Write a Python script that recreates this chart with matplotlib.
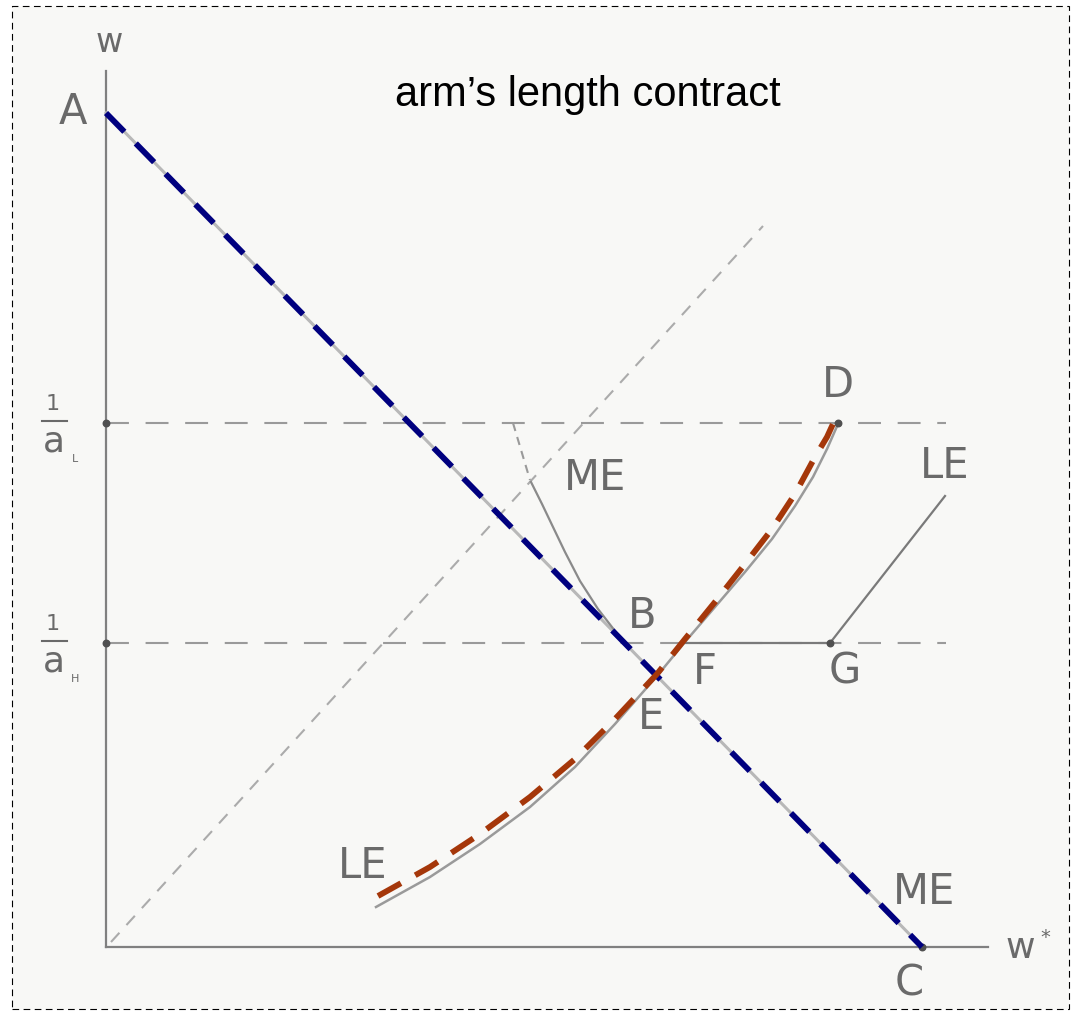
import numpy as np
import matplotlib.pyplot as plt
from matplotlib.patches import Rectangle

# diagram coordinates (w* across, w up), origin at the axes corner
A = (0.0, 8.34)
C = (8.16, 0.0)
w_L = 5.24   # 1/a_L
w_H = 3.04   # 1/a_H
line_end = 8.40

diag_x = [0.05, 6.57]
diag_y = [0.05, 7.21]

me_kink_x = [4.07, 4.24]
me_kink_y = [5.24, 4.67]
me_x = [4.25, 4.36, 4.47, 4.59, 4.74, 4.92, 5.16]
me_y = [4.65, 4.43, 4.20, 3.95, 3.66, 3.38, 3.07]

le_x = [2.70, 3.24, 3.74, 4.24, 4.69, 5.09, 5.51, 5.79, 6.09, 6.39, 6.66, 6.89, 7.07, 7.21, 7.32]
le_y = [0.40, 0.70, 1.03, 1.40, 1.80, 2.23, 2.71, 3.05, 3.40, 3.75, 4.08, 4.41, 4.70, 4.98, 5.23]

fg_x = [5.79, 7.24]
ge_x = [7.24, 8.39]
ge_y = [3.04, 4.51]

arm_x = [2.72, 3.24, 3.74, 4.24, 4.69, 5.09, 5.51, 5.79, 6.09, 6.39, 6.66, 6.89, 7.09, 7.21, 7.32]
arm_y = [0.51, 0.80, 1.13, 1.50, 1.88, 2.28, 2.73, 3.08, 3.45, 3.83, 4.18, 4.53, 4.90, 5.10, 5.34]

dots_x = [0, 0, 7.32, 7.24, 8.16]
dots_y = [w_L, w_H, w_L, w_H, 0]

labels = ["A", "ME", "D", "LE", "B", "F", "E", "G", "LE", "ME", "C"]
lab_x = [-0.33, 4.89, 7.32, 8.39, 5.36, 5.99, 5.45, 7.39, 2.57, 8.18, 8.03]
lab_y = [8.36, 4.70, 5.63, 4.82, 3.32, 2.76, 2.31, 2.76, 0.82, 0.56, -0.36]

grey = '#6a6a6a'

fig = plt.figure(figsize=(10.72, 10.12), dpi=100)
ax = fig.add_axes([0, 0, 1, 1])
ax.set_xlim(-1.06, 9.66)
ax.set_ylim(-0.64, 9.48)
ax.axis('off')

# scanned page background and dashed frame
ax.add_patch(Rectangle((-0.94, -0.62), 10.57, 10.03, facecolor='#f8f8f6',
                       edgecolor='black', lw=0.8, ls=(0, (6, 4)), clip_on=False, zorder=0))

# axes
ax.plot([0, 0], [0, 8.76], color='#808080', lw=1.6)
ax.plot([0, 8.82], [0, 0], color='#808080', lw=1.6)

# guide lines
for w in (w_L, w_H):
    ax.plot([0, line_end], [w, w], color='#9a9a9a', lw=1.5, dashes=(11, 8))
ax.plot(diag_x, diag_y, color='#ababab', lw=1.5, dashes=(6, 5))

# original curves
ax.plot([A[0], C[0]], [A[1], C[1]], color='#b8b8b8', lw=2.2)
ax.plot(me_kink_x, me_kink_y, color='#9a9a9a', lw=1.5, dashes=(4, 3))
ax.plot(me_x, me_y, color='#8a8a8a', lw=1.6)
ax.plot(le_x, le_y, color='#9a9a9a', lw=1.8)
ax.plot(fg_x, [w_H, w_H], color='#7a7a7a', lw=1.6)
ax.plot(ge_x, ge_y, color='#7a7a7a', lw=1.6)
ax.scatter(dots_x, dots_y, s=22, color='#505050', zorder=3)

# arm's length overlays
ax.plot([A[0], C[0]], [A[1], C[1]], color='#00007f', lw=4.2, dashes=(4.5, 2.8), zorder=4)
ax.plot(arm_x, arm_y, color='#a5370a', lw=4.2, dashes=(4.5, 2.8), zorder=4)

# letters
for t, x, y in zip(labels, lab_x, lab_y):
    ax.text(x, y, t, fontsize=30, color=grey, ha='center', va='center', family='DejaVu Sans')
ax.text(0.03, 9.06, 'w', fontsize=24, color=grey, ha='center', va='center')
ax.text(9.14, 0.00, 'w', fontsize=26, color=grey, ha='center', va='center')
ax.text(9.39, 0.10, '*', fontsize=14, color=grey, ha='center', va='center')

# 1/a_L and 1/a_H
for w, sub in ((w_L, 'L'), (w_H, 'H')):
    ax.text(-0.53, w + 0.20, '1', fontsize=16, color=grey, ha='center', va='center')
    ax.plot([-0.64, -0.39], [w + 0.02, w + 0.02], color=grey, lw=1.5)
    ax.text(-0.52, w - 0.18, 'a', fontsize=26, color=grey, ha='center', va='center')
    ax.text(-0.31, w - 0.35, sub, fontsize=8, color=grey, ha='center', va='center')

ax.text(4.82, 8.42, 'arm\u2019s length contract', fontsize=30, color='black',
        ha='center', va='baseline', family='Liberation Sans')

fig.savefig('out.png', dpi=100, facecolor='white')
